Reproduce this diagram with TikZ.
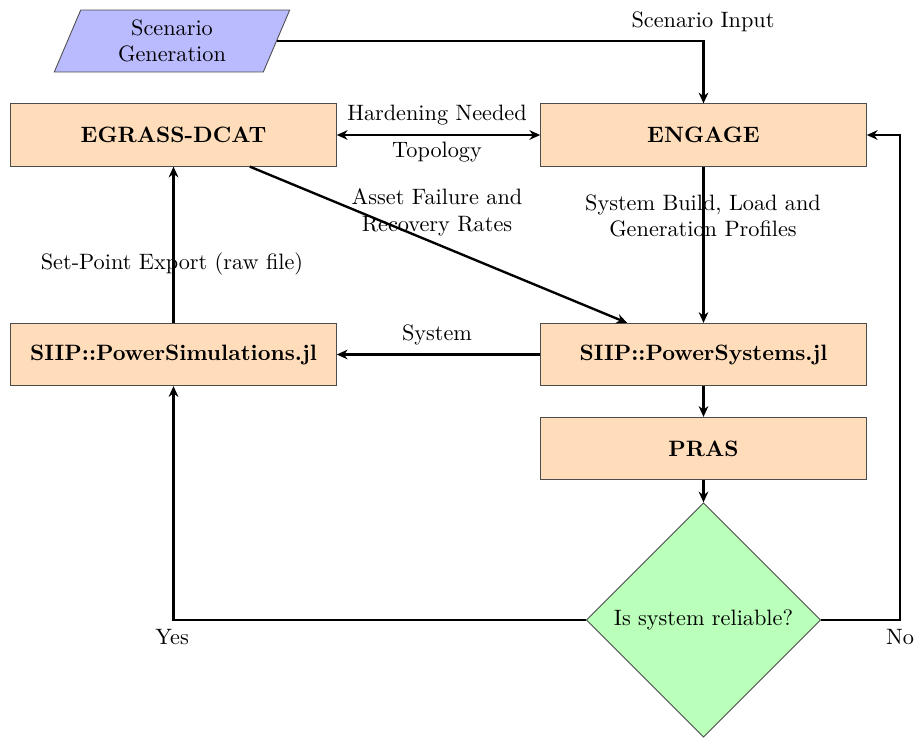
\documentclass[tikz,border=0pt]{standalone}
\usetikzlibrary{shapes.geometric,arrows.meta}
\begin{document}
\begin{tikzpicture}[x=0.465pt,y=-0.465pt,
  every node/.style={font=\fontsize{10.35}{12.4}\selectfont},
  proc/.style={rectangle, draw=black!70, thin, fill=orange!27, minimum width=151.5pt, minimum height=29pt, font=\fontsize{10.35}{12.4}\selectfont\bfseries, inner sep=0pt},
  inp/.style={trapezium, trapezium left angle=70, trapezium right angle=110, trapezium stretches=true, draw=black!70, thin, fill=blue!27, minimum width=110pt, minimum height=28.8pt, align=center, inner sep=0pt},
  dec/.style={diamond, aspect=1, draw=black!70, thin, fill=green!27, minimum width=109pt, minimum height=109pt, inner sep=0pt},
  conn/.style={line width=1.1pt, -{Stealth[length=5pt,width=4.5pt]}},
  biconn/.style={line width=1.1pt, {Stealth[length=5pt,width=4.5pt]}-{Stealth[length=5pt,width=4.5pt]}},
  lbl/.style={align=center, inner sep=0pt}]
\useasboundingbox (0,0) rectangle (917,738);
\node[inp] (sg) at (172,41) {Scenario\\Generation};
\node[proc] (egrass) at (173.5,135) {EGRASS-DCAT};
\node[proc] (engage) at (703.5,135) {ENGAGE};
\node[proc] (psim) at (173.5,354.5) {SIIP::PowerSimulations.jl};
\node[proc] (psys) at (703.5,354.5) {SIIP::PowerSystems.jl};
\node[proc] (pras) at (703.5,448.5) {PRAS};
\node[dec] (dia) at (703.5,620) {Is system reliable?};
\coordinate (nocorner) at (900,620);

\draw[conn] (sg.east) -| (engage.north);
\draw[biconn] (egrass.east) -- (engage.west);
\draw[conn] (egrass) -- (psys);
\draw[conn] (engage.south) -- (psys.north);
\draw[conn] (psys.west) -- (psim.east);
\draw[conn] (psim.north) -- (egrass.south);
\draw[conn] (psys.south) -- (pras.north);
\draw[conn] (pras.south) -- (dia.north);
\draw[conn] (dia.west) -| (psim.south);
\draw[conn] (dia.east) -- (nocorner) |- (engage.east);

\node[lbl] (l1) at (703,22) {Scenario Input};
\node[lbl] (l2) at (437,115) {Hardening Needed};
\node[lbl] (l3) at (437,152) {Topology};
\node[lbl] (l4) at (437,212) {Asset Failure and\\Recovery Rates};
\node[lbl] (l5) at (703,216) {System Build, Load and\\Generation Profiles};
\node[lbl] (l6) at (172,264) {Set-Point Export (raw file)};
\node[lbl] (l7) at (437,335) {System};
\node[lbl] (l8) at (172,637) {Yes};
\node[lbl] (l9) at (900,637) {No};
\end{tikzpicture}
\end{document}
